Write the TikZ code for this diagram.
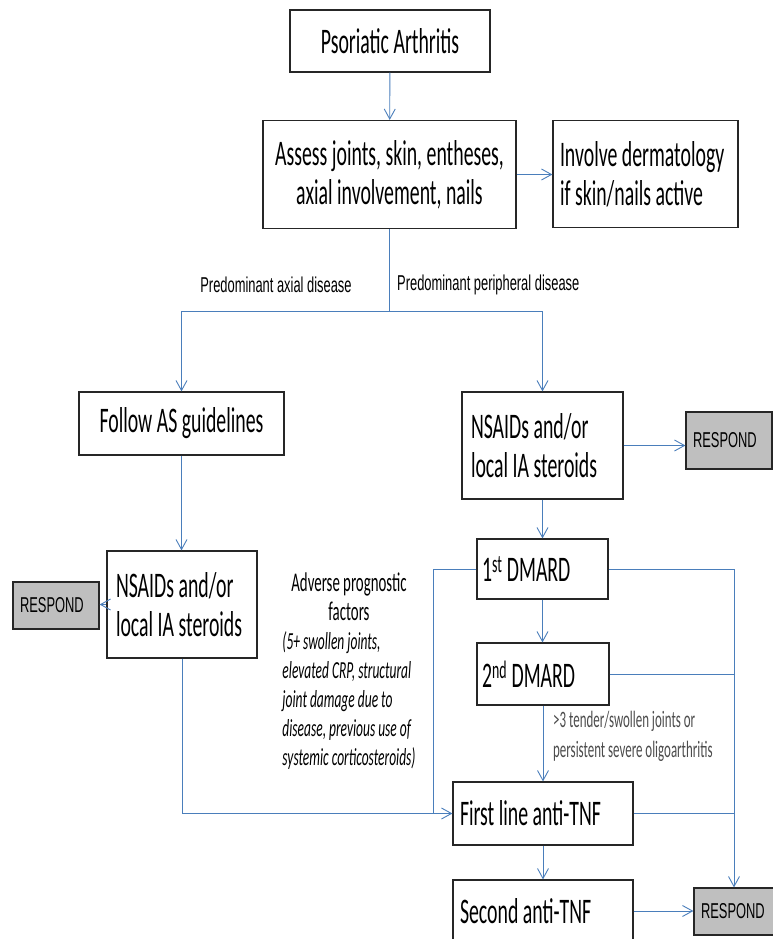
\documentclass[tikz,border=0pt]{standalone}
\usepackage{fontspec}
\usepackage{tikz}
\usetikzlibrary{positioning, arrows.meta}
\newfontfamily\boxfont[FakeStretch=0.55]{Carlito}
\newfontfamily\labfont[FakeStretch=0.6]{Liberation Sans}
\definecolor{linkblue}{HTML}{4A7EBB}
\definecolor{respgrey}{HTML}{BFBFBF}
\definecolor{boxline}{HTML}{262626}

\tikzset{
  box/.style={draw=boxline, line width=1.2pt, fill=white, inner xsep=7pt, inner ysep=0pt,
    font=\boxfont\fontsize{36}{39}\selectfont, align=center},
  leftbox/.style={box, align=flush left},
  respbox/.style={draw=boxline, line width=1.2pt, fill=respgrey, inner xsep=7pt, inner ysep=0pt,
    align=flush left, font=\labfont\fontsize{21.5}{24}\selectfont},
  link/.style={draw=linkblue, line width=0.9pt},
  arr/.style={link, -{Straight Barb[length=10pt,width=11pt]}},
  lbl/.style={font=\labfont\fontsize{21.5}{24}\selectfont, inner sep=0pt},
}

\begin{document}
\begin{tikzpicture}[x=1pt, y=-1pt]
  \useasboundingbox (0,0) rectangle (773,939);

  % top of the chart
  \node[box, minimum width=200pt, minimum height=62pt] (pa) at (390,41) {Psoriatic Arthritis};
  \node[box, minimum width=253pt, minimum height=108pt] (assess) at (389.5,174.5)
    {Assess joints, skin, entheses,\\axial involvement, nails};
  \node[leftbox, text width=171pt, minimum height=107pt] (derm) at (645.5,174)
    {Involve dermatology\\if skin/nails active};

  \node[lbl] (axial) at (276,285) {Predominant axial disease};
  \node[lbl, anchor=west] (periph) at (397,285) {Predominant peripheral disease};

  % axial branch
  \node[box, minimum width=205pt, minimum height=63pt] (asg) at (181.5,423.5) {Follow AS guidelines};
  \node[leftbox, inner xsep=9pt, text width=132pt, minimum height=107pt] (nsl) at (182,604.5)
    {NSAIDs and/or\\local IA steroids};
  \node[respbox, text width=72pt, minimum height=47pt] (resp2) at (56,605.5) {RESPOND};

  % peripheral branch
  \node[leftbox, inner xsep=9pt, text width=143pt, minimum height=107pt] (nsr) at (542.5,445.5)
    {NSAIDs and/or\\local IA steroids};
  \node[respbox, text width=72pt, minimum height=57pt] (resp1) at (729,440.5) {RESPOND};
  \node[leftbox, inner xsep=5pt, text width=121pt, minimum height=60pt] (dm1) at (542.5,569)
    {1\textsuperscript{st} DMARD};
  \node[leftbox, inner xsep=5pt, text width=122pt, minimum height=62pt] (dm2) at (543,674)
    {2\textsuperscript{nd} DMARD};
  \node[leftbox, text width=166pt, minimum height=63pt] (tnf1) at (543,813.5) {First line anti-TNF};
  \node[leftbox, text width=166pt, minimum height=62pt] (tnf2) at (543,911) {Second anti-TNF};
  \node[respbox, text width=66pt, minimum height=47pt] (resp3) at (734,911.5) {RESPOND};

  \node[font=\boxfont\fontsize{27}{29}\selectfont, align=center, inner sep=0pt] (adverse) at (349,673)
    {Adverse prognostic\\factors\\
     {\fontsize{24.5}{29}\selectfont\itshape\begin{tabular}[t]{@{}l@{}}
       (5+ swollen joints,\\
       elevated CRP, structural\\
       joint damage due to\\
       disease, previous use of\\
       systemic corticosteroids)
     \end{tabular}}};
  \node[font=\boxfont\fontsize{23.5}{30}\selectfont, text=black!70, align=flush left, anchor=north west,
    inner sep=0pt] (crit) at (553,711)
    {>3 tender/swollen joints or\\persistent severe oligoarthritis};

  % connectors
  \coordinate (split) at (389.5,311);
  \coordinate (dmjoin) at (433,813.5);
  \draw[arr] (pa) -- (assess);
  \draw[arr] (assess.east) -- (assess.east -| derm.west);
  \draw[link] (assess.south) -- (split);
  \draw[arr] (split) -| (asg.north);
  \draw[arr] (split) -| (nsr.north);
  \draw[arr] (asg.south) -- (asg.south |- nsl.north);
  \draw[arr] (nsl.west) -- (nsl.west -| resp2.east);
  \draw[arr] (nsl.south) |- (tnf1.west);
  \draw[arr] (nsr.east) -- (nsr.east -| resp1.west);
  \draw[arr] (nsr.south) -- (dm1.north);
  \draw[arr] (dm1.south) -- (dm1.south |- dm2.north);
  \draw[arr] (dm2.south) -- (dm2.south |- tnf1.north);
  \draw[arr] (tnf1.south) -- (tnf2.north);
  \draw[arr] (tnf2.east) -- (tnf2.east -| resp3.west);
  \draw[link] (dm1.west) -| (dmjoin);
  \draw[arr] (dm1.east) -| (resp3.north);
  \draw[link] (dm2.east) -- (dm2.east -| resp3.north);
  \draw[link] (tnf1.east) -- (tnf1.east -| resp3.north);
\end{tikzpicture}
\end{document}
